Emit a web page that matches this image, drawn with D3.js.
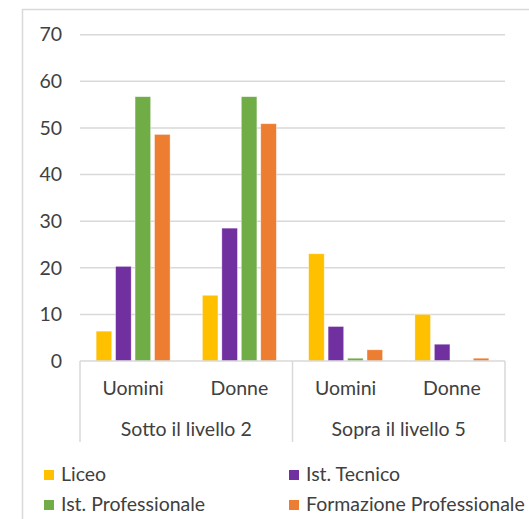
<!DOCTYPE html>
<html>
  <head>
    <meta charset="UTF-8" />
    <script src="https://d3js.org/d3.v7.min.js"></script>
    <style>
      body { margin: 0; background: #fff; }
      text { font-family: Lato, "Open Sans", sans-serif; fill: #404040; }
    </style>
  </head>
  <body>
    <svg width="529" height="519"></svg>

    <script>
      // data
      const groups = ["Sotto il livello 2", "Sopra il livello 5"];
      const genders = ["Uomini", "Donne"];
      const series = ["Liceo", "Ist. Tecnico", "Ist. Professionale", "Formazione Professionale"];
      const colors = ["#FFC000", "#7030A0", "#70AD47", "#ED7D31"];
      // one array per category, in series order
      const sottoUomini = [6.4, 20.3, 56.7, 48.6];
      const sottoDonne = [14.1, 28.5, 56.7, 50.9];
      const sopraUomini = [23.0, 7.4, 0.6, 2.4];
      const sopraDonne = [10.0, 3.6, 0, 0.6];
      const yTicks = [0, 10, 20, 30, 40, 50, 60, 70];

      const cats = [
        { group: groups[0], gender: genders[0], values: sottoUomini },
        { group: groups[0], gender: genders[1], values: sottoDonne },
        { group: groups[1], gender: genders[0], values: sopraUomini },
        { group: groups[1], gender: genders[1], values: sopraDonne },
      ];
      cats.forEach((c, i) => (c.key = i));

      const fs = "19.5px";
      const svg = d3.select("svg");

      // chart frame (only left and top edges are visible)
      svg.append("path")
        .attr("d", "M22.5,519 V9.5 H529")
        .attr("fill", "none")
        .attr("stroke", "#d9d9d9")
        .attr("stroke-width", 1.5);

      const pLeft = 80, pRight = 505, pTop = 34.7, pBottom = 361;

      const y = d3.scaleLinear().domain([0, 70]).range([pBottom, pTop]);
      const x0 = d3.scaleBand().domain(cats.map((c) => c.key)).range([pLeft, pRight]);
      const x1 = d3.scaleBand()
        .domain(series)
        .range([0, x0.bandwidth()])
        .paddingInner(0.2)
        .paddingOuter(0.83);
      const xg = d3.scaleBand().domain(groups).range([pLeft, pRight]);

      // gridlines
      svg.append("g")
        .selectAll("line")
        .data(yTicks.filter((d) => d > 0))
        .join("line")
        .attr("x1", pLeft)
        .attr("x2", pRight)
        .attr("y1", (d) => y(d))
        .attr("y2", (d) => y(d))
        .attr("stroke", "#d9d9d9")
        .attr("stroke-width", 1.5);

      // y axis labels
      const yAxis = d3.axisLeft(y).tickValues(yTicks).tickSize(0).tickPadding(18);
      const ya = svg.append("g").attr("transform", `translate(${pLeft},0)`).call(yAxis);
      ya.select(".domain").remove();
      ya.selectAll("text").style("font-size", fs).attr("fill", "#404040").attr("font-family", "Lato");

      // bars
      svg.append("g")
        .selectAll("g")
        .data(cats)
        .join("g")
        .attr("transform", (d) => `translate(${x0(d.key)},0)`)
        .selectAll("rect")
        .data((d) => d.values.map((v, i) => ({ s: series[i], v: v, c: colors[i] })))
        .join("rect")
        .attr("x", (d) => x1(d.s))
        .attr("width", x1.bandwidth())
        .attr("y", (d) => y(d.v))
        .attr("height", (d) => pBottom - y(d.v))
        .attr("fill", (d) => d.c)
        .attr("stroke", "#fff")
        .attr("stroke-opacity", 0.5)
        .attr("stroke-width", 0.7);

      // category axis with group dividers
      const axisG = svg.append("g");
      axisG.append("line")
        .attr("x1", pLeft).attr("x2", pRight)
        .attr("y1", pBottom).attr("y2", pBottom)
        .attr("stroke", "#d9d9d9").attr("stroke-width", 1.5);
      axisG.selectAll("line.div")
        .data([pLeft, xg(groups[1]), pRight])
        .join("line")
        .attr("class", "div")
        .attr("x1", (d) => d).attr("x2", (d) => d)
        .attr("y1", pBottom).attr("y2", 442)
        .attr("stroke", "#d9d9d9").attr("stroke-width", 1.5);

      axisG.selectAll("text.gender")
        .data(cats)
        .join("text")
        .attr("class", "gender")
        .attr("x", (d) => x0(d.key) + x0.bandwidth() / 2)
        .attr("y", 395)
        .attr("text-anchor", "middle")
        .style("font-size", fs)
        .text((d) => d.gender);

      axisG.selectAll("text.group")
        .data(groups)
        .join("text")
        .attr("class", "group")
        .attr("x", (d) => xg(d) + xg.bandwidth() / 2)
        .attr("y", 436)
        .attr("text-anchor", "middle")
        .style("font-size", fs)
        .text((d) => d);

      // legend
      const legendPos = [
        [44, 470], [289, 470],
        [44, 500], [289, 500],
      ];
      const lg = svg.append("g")
        .selectAll("g")
        .data(series)
        .join("g")
        .attr("transform", (d, i) => `translate(${legendPos[i][0]},${legendPos[i][1]})`);
      lg.append("rect")
        .attr("width", 10).attr("height", 10)
        .attr("fill", (d, i) => colors[i]);
      lg.append("text")
        .attr("x", 17).attr("y", 10.5)
        .style("font-size", fs)
        .text((d) => d);
    </script>
  </body>
</html>
